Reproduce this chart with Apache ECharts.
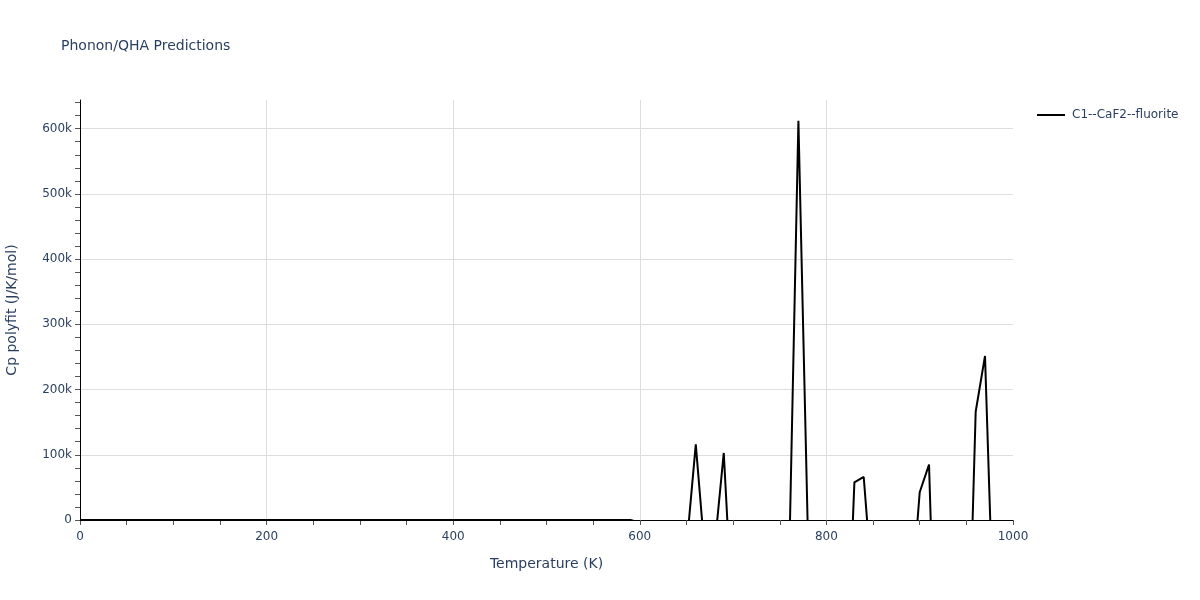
<!DOCTYPE html>
<html>
<head>
<meta charset="utf-8">
<script src="https://cdn.jsdelivr.net/npm/echarts@6/dist/echarts.min.js"></script>
<style>html,body{margin:0;padding:0;background:#fff}#c{width:1200px;height:600px}</style>
</head>
<body>
<div id="c"></div>
<script>
// Temperatures (K)
var temperatures = [0,10,20,30,40,50,60,70,80,90,100,110,120,130,140,150,160,170,180,190,200,210,220,230,240,250,260,270,280,290,300,310,320,330,340,350,360,370,380,390,400,410,420,430,440,450,460,470,480,490,500,510,520,530,540,550,560,570,580,590,600,610,620,630,640,650,660,670,680,690,700,710,720,730,740,750,760,770,780,790,800,810,820,830,840,850,860,870,880,890,900,910,920,930,940,950,960,970,980,990,1000];
// Cp polyfit (J/K/mol); negative values fall below the visible range
var cpValues = [0,0.5,4,11,20,29,37,44,50,54,58,61,63,65,66,67,68,69,70,70,71,71,72,72,72,73,73,73,73,74,74,74,74,74,74,75,75,75,75,75,75,75,75,75,75,75,75,75,75,75,75,75,75,75,75,75,75,75,75,75,
  -4000,-12000,-22000,-32000,-40000,-43000,116000,-57000,-44000,102800,-168000,-150000,-120000,-100000,-90000,-80000,-68000,612000,-12000,-50000,-100000,-200000,-303000,57800,66000,-117000,-150000,-170000,-160000,-142000,42500,84900,-387000,-300000,-320000,-337000,166000,251600,-197000,-250000,-300000];
var seriesName = 'C1--CaF2--fluorite';
// y tick marks every 20k (labels every 100k)
var yTickValues = [0,20000,40000,60000,80000,100000,120000,140000,160000,180000,200000,220000,240000,260000,280000,300000,320000,340000,360000,380000,400000,420000,440000,460000,480000,500000,520000,540000,560000,580000,600000,620000,640000];

var data = temperatures.map(function (x, i) { return [x, cpValues[i]]; });
var txt = '#2a3f5f';
var font = '"DejaVu Sans", Verdana, sans-serif';
var chart = echarts.init(document.getElementById('c'));
chart.setOption({
  animation: false,
  backgroundColor: '#fff',
  title: {
    text: 'Phonon/QHA Predictions', left: 56, top: 34,
    textStyle: { fontFamily: font, fontSize: 14, fontWeight: 'normal', color: txt }
  },
  legend: {
    left: 1032, top: 104, itemWidth: 28, itemHeight: 2, itemGap: 5,
    icon: 'rect',
    textStyle: { fontFamily: font, fontSize: 12, color: txt, padding: [0, 0, 0, 2] },
    data: [{ name: seriesName, itemStyle: { color: '#000' } }]
  },
  grid: { left: 80, right: 187, top: 100, bottom: 80, containLabel: false, outerBoundsMode: 'none' },
  xAxis: {
    type: 'value', min: 0, max: 1000, interval: 200,
    name: 'Temperature (K)', nameLocation: 'middle', nameGap: 37,
    nameTextStyle: { fontFamily: font, fontSize: 14, color: txt },
    axisLine: { show: true, lineStyle: { color: '#000', width: 1 } },
    axisTick: { show: true, length: 5, lineStyle: { color: '#555' } },
    minorTick: { show: true, splitNumber: 4, length: 5, lineStyle: { color: '#555' } },
    axisLabel: { fontFamily: font, fontSize: 12, color: txt, margin: 11, formatter: function (v) { return String(v); } },
    splitLine: { show: true, showMinLine: false, showMaxLine: false, lineStyle: { color: '#dddddd' } }
  },
  yAxis: [{
    type: 'value', min: 0, max: 644000, interval: 100000,
    name: 'Cp polyfit (J/K/mol)', nameLocation: 'middle', nameGap: 61,
    nameTextStyle: { fontFamily: font, fontSize: 14, color: txt },
    axisLine: { show: true, lineStyle: { color: '#000', width: 1 } },
    axisTick: { show: false },
    axisLabel: {
      fontFamily: font, fontSize: 12, color: txt, margin: 8, showMaxLabel: false,
      formatter: function (v) { return v === 0 ? '0' : (v / 1000) + 'k'; }
    },
    splitLine: { show: true, showMinLine: false, showMaxLine: false, lineStyle: { color: '#dddddd' } }
  }, {
    type: 'value', min: 0, max: 644000, position: 'left', offset: 0,
    axisLine: { show: false },
    axisTick: { show: true, length: 5, customValues: yTickValues, lineStyle: { color: '#555' } },
    axisLabel: { show: false },
    splitLine: { show: false }
  }],
  series: [{
    name: seriesName, type: 'line', data: data, yAxisIndex: 0, showSymbol: false, symbol: 'none',
    clip: true, lineStyle: { color: '#000', width: 2 }, itemStyle: { color: '#000' }
  }]
});
</script>
</body>
</html>
